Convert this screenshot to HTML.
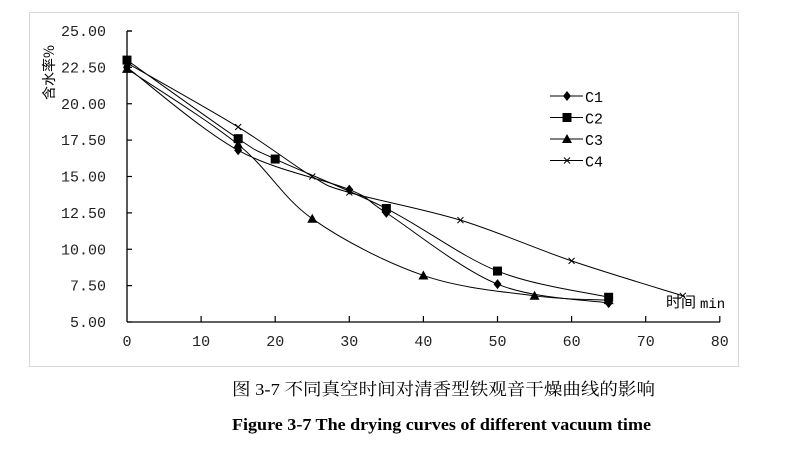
<!DOCTYPE html><html><head><meta charset="utf-8"><style>
body{margin:0;background:#fff;width:791px;height:451px;overflow:hidden}
</style></head><body>
<svg id="s" width="791" height="451" xmlns="http://www.w3.org/2000/svg" font-family="Liberation Mono,Noto Sans CJK SC,monospace">
<rect x="29.5" y="12.5" width="709" height="354" fill="none" stroke="#d8d8d8"/>
<g stroke="#000" stroke-width="1.3" fill="none">
<line x1="127" y1="31" x2="127" y2="322"/>
<line x1="127" y1="322" x2="720" y2="322"/>
<line x1="127" y1="31" x2="132" y2="31"/>
</g>
<g id="ticks" stroke="#000" stroke-width="1.2"></g>
<g id="lab" font-size="15" fill="#222"></g>
<text x="0" y="0" font-size="14" transform="translate(54,100) rotate(-90)" style="font-family:'Noto Sans CJK SC',sans-serif">含水率%</text>
<text x="666" y="307" font-size="15" style="font-family:'Noto Sans CJK SC',sans-serif">时间</text>
<text x="700" y="308" font-size="14">min</text>
<g id="series" stroke="#000" stroke-width="1" fill="none"></g>
<g id="marks"></g>
<g id="leg" font-size="15"></g>
<text x="232" y="395" font-size="17" textLength="423" lengthAdjust="spacingAndGlyphs" style="font-family:'Liberation Serif','Noto Serif CJK SC',serif">图 3-7  不同真空时间对清香型铁观音干燥曲线的影响</text>
<text x="232" y="430" font-size="17" font-weight="bold" textLength="419" lengthAdjust="spacingAndGlyphs" style="font-family:'Liberation Serif',serif">Figure 3-7 The drying curves of different vacuum time</text>
</svg>
<script>
const NS="http://www.w3.org/2000/svg";
const X=v=>127+v*7.41, Y=v=>322-(v-5)*14.55;
function el(p,t,a,txt){const e=document.createElementNS(NS,t);for(const k in a)e.setAttribute(k,a[k]);if(txt)e.textContent=txt;document.getElementById(p).appendChild(e);return e;}
for(let i=0;i<=8;i++){const x=X(i*10);if(i>0)el("ticks","line",{x1:x,y1:322,x2:x,y2:316});el("lab","text",{x:x,y:346,"text-anchor":"middle"},String(i*10));}
for(let i=0;i<=8;i++){const v=5+i*2.5,y=Y(v);el("ticks","line",{x1:127,y1:y,x2:132,y2:y});el("lab","text",{x:106,y:y+5,"text-anchor":"end"},v.toFixed(2));}
const S=[
{m:"d",p:[[0,22.5],[15,16.8],[30,14.1],[35,12.5],[50,7.6],[65,6.3]]},
{m:"s",p:[[0,23],[15,17.6],[20,16.2],[35,12.8],[50,8.5],[65,6.7]]},
{m:"t",p:[[0,22.4],[15,17.2],[25,12.1],[40,8.2],[55,6.8],[65,6.5]]},
{m:"x",p:[[0,22.8],[15,18.4],[25,15],[30,13.9],[45,12],[60,9.2],[75,6.8]]}];
function path(pts){const P=pts.map(q=>[X(q[0]),Y(q[1])]);let d="M"+P[0];for(let i=0;i<P.length-1;i++){const p0=P[i-1]||P[i],p1=P[i],p2=P[i+1],p3=P[i+2]||p2;const t=1/6;d+=` C${p1[0]+(p2[0]-p0[0])*t},${p1[1]+(p2[1]-p0[1])*t} ${p2[0]-(p3[0]-p1[0])*t},${p2[1]-(p3[1]-p1[1])*t} ${p2[0]},${p2[1]}`;}return d;}
function mark(m,x,y){if(m=="d")el("marks","path",{d:`M${x},${y-5}L${x+4},${y}L${x},${y+5}L${x-4},${y}Z`,fill:"#000"});
else if(m=="s")el("marks","rect",{x:x-4.5,y:y-4.5,width:9,height:9,fill:"#000"});
else if(m=="t")el("marks","path",{d:`M${x},${y-5}L${x+5},${y+4}L${x-5},${y+4}Z`,fill:"#000"});
else el("marks","path",{d:`M${x-3},${y-3}L${x+3},${y+3}M${x+3},${y-3}L${x-3},${y+3}`,stroke:"#000","stroke-width":1});}
S.forEach((s,k)=>{el("series","path",{d:path(s.p)});s.p.forEach(q=>mark(s.m,X(q[0]),Y(q[1])));
const ly=96+k*21.5;el("series","line",{x1:550,y1:ly,x2:583,y2:ly});mark(s.m,567,ly);el("leg","text",{x:585,y:ly+6},"C"+(k+1));});
</script>
</body></html>
